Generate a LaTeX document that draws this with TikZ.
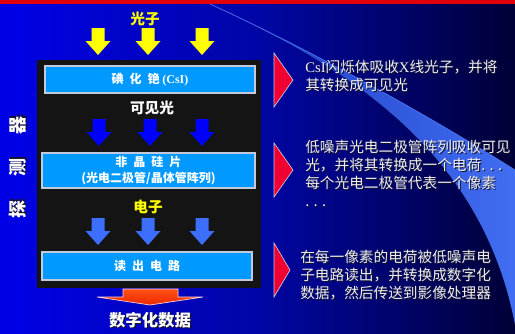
\documentclass[tikz,border=0pt]{standalone}
\usepackage{fontspec}
\setmainfont{Liberation Serif}
\newfontfamily\cjk{Noto Sans CJK SC}
\usetikzlibrary{positioning}

\definecolor{bgleft}{RGB}{0,0,232}
\definecolor{bgmid}{RGB}{0,6,165}
\definecolor{bgright}{RGB}{0,0,55}
\definecolor{topbar}{RGB}{225,0,10}
\definecolor{sweepdark}{RGB}{25,55,190}
\definecolor{sweeplight}{RGB}{65,110,242}
\definecolor{sweepline}{RGB}{75,120,255}
\definecolor{panel}{RGB}{20,20,20}
\definecolor{layer}{RGB}{0,153,255}
\definecolor{layeredge}{RGB}{195,200,220}
\definecolor{photon}{RGB}{255,255,0}
\definecolor{lightray}{RGB}{0,0,255}
\definecolor{charge}{RGB}{60,110,255}
\definecolor{outtop}{RGB}{255,80,20}
\definecolor{outbottom}{RGB}{235,40,0}
\definecolor{notemark}{RGB}{240,0,50}
\definecolor{note}{RGB}{238,238,242}
\definecolor{shadowgrey}{RGB}{20,20,40}

\newcommand{\shadowed}[1]{\makebox[0pt][l]{\kern0.9pt\raisebox{-0.9pt}{\color{shadowgrey}#1}}#1}

\begin{document}
\begin{tikzpicture}[x=0.75pt,y=-0.75pt]
\newcommand{\blockarrow}[3]{\fill[#1] (#2-6.5,#3) -- (#2+6.5,#3) -- (#2+6.5,#3+13) -- (#2+12.5,#3+13) -- (#2,#3+27) -- (#2-12.5,#3+13) -- (#2-6.5,#3+13) -- cycle;}

\tikzset{
  layerbox/.style={fill=layer, draw=layeredge, line width=1pt},
  layertext/.style={text=white, font=\cjk\bfseries\fontsize{9}{12}\selectfont, align=center, inner sep=0pt},
  caption/.style={font=\cjk\bfseries\fontsize{11}{13}\selectfont, inner sep=0pt},
  notetext/.style={text=note, font=\cjk\fontsize{11}{13.5}\selectfont, align=left, anchor=north west, inner sep=0pt},
  notetip/.style={fill=notemark, draw=layeredge, line width=0.5pt}
}

    \useasboundingbox (0,0) rectangle (515,333);
    \fill[left color=bgleft, right color=bgright, middle color=bgmid] (0,0) rectangle (515,333);
    \fill[left color=sweepdark, right color=sweeplight] (210,4) .. controls (300,45) and (420,110) .. (515,170) -- (515,325) .. controls (480,140) and (330,60) .. (210,4) -- cycle;
    \draw[sweepline, line width=0.5pt] (210,4) .. controls (300,45) and (420,110) .. (515,170);
    \fill[topbar] (0,0) rectangle (515,4);

    \begin{scope}[]
    \fill[panel] (37,60) rectangle (261,288);
    \draw[layerbox] (45,66) rectangle (255,93);
    \draw[layerbox] (42,153) rectangle (255,188);
    \draw[layerbox] (42,252) rectangle (252,280);
    \node[layertext] (csi) at (150,79.5) {碘\enspace 化\enspace 铯 {\rmfamily (CsI)}};
    \node[layertext] (asi) at (148.5,171) {非\enspace 晶\enspace 硅\enspace 片\\(光电二极管/晶体管阵列)};
    \node[layertext] (readout) at (147,266) {读\enspace 出\enspace 电\enspace 路};
    \end{scope}

    \node[caption, text=photon] (photons) at (145,18.5) {光子};
    \node[caption, text=white] (visible) at (152,108) {可见光};
    \node[caption, text=photon] (electrons) at (148,207) {电子};

    \blockarrow{photon}{98}{28}
    \blockarrow{photon}{148}{28}
    \blockarrow{photon}{202}{28}
    \blockarrow{lightray}{99}{119}
    \blockarrow{lightray}{150}{119}
    \blockarrow{lightray}{202}{119}
    \blockarrow{charge}{98}{218}
    \blockarrow{charge}{148}{218}
    \blockarrow{charge}{202}{218}

    \draw[top color=outtop, bottom color=outbottom, draw=white!85!red, line width=0.5pt] (123,289) -- (178,289) -- (178,297) -- (203,297) -- (150,305) -- (97,297) -- (123,297) -- cycle;
    \node[caption, text=white, font=\cjk\bfseries\fontsize{12.3}{14}\selectfont] (digital) at (150,321) {\shadowed{数字化数据}};
    \node[caption, text=white, font=\cjk\bfseries\fontsize{13.5}{15}\selectfont, rotate=90] (detector) at (18,167) {\shadowed{探}\kern18pt\shadowed{测}\kern18pt\shadowed{器}};

    \draw[notetip] (274,53) -- (293,80) -- (274,107) -- cycle;
    \draw[notetip] (274,143) -- (293,170) -- (274,197) -- cycle;
    \draw[notetip] (274,243) -- (290,270) -- (274,297) -- cycle;

    \node[notetext] (noteA) at (305,60) {\shadowed{{\rmfamily CsI}闪烁体吸收{\rmfamily X}线光子，并将}\\\shadowed{其转换成可见光}};
    \node[notetext] (noteB) at (305,140) {\shadowed{低噪声光电二极管阵列吸收可见}\\\shadowed{光，并将其转换成一个电荷. . .}\\\shadowed{每个光电二极管代表一个像素}\\\shadowed{. . .}};
    \node[notetext] (noteC) at (300,250) {\shadowed{在每一像素的电荷被低噪声电}\\\shadowed{子电路读出，并转换成数字化}\\\shadowed{数据，然后传送到影像处理器}};
\end{tikzpicture}
\end{document}
